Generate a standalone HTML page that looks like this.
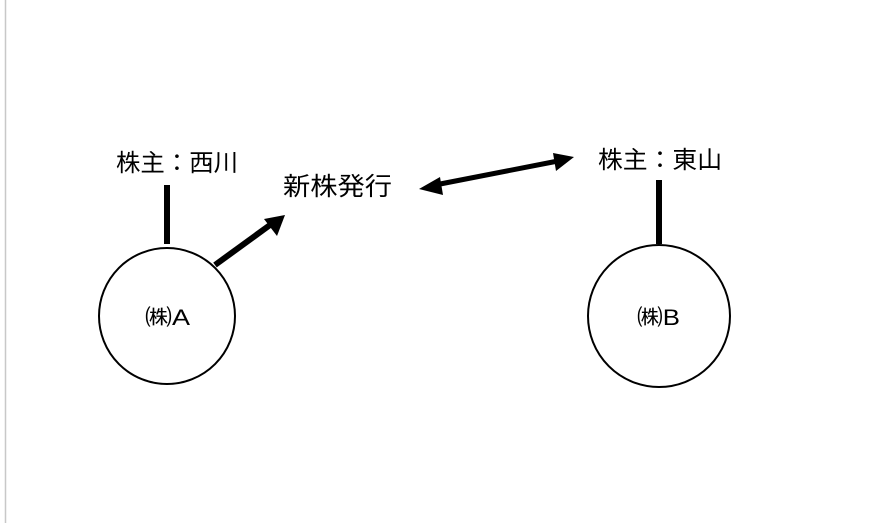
<!DOCTYPE html>
<html><head><meta charset="utf-8"><style>
html,body{margin:0;padding:0;background:#fff;width:875px;height:523px;overflow:hidden}
svg text{font-family:"Liberation Sans","Noto Sans CJK JP",sans-serif;fill:#000}
</style></head><body>
<svg width="875" height="523" viewBox="0 0 875 523" xmlns="http://www.w3.org/2000/svg">
<line x1="5.5" y1="0" x2="5.5" y2="523" stroke="#c8c8c8" stroke-width="1.5"/>
<circle cx="167" cy="316" r="68" fill="none" stroke="#000" stroke-width="2"/>
<circle cx="659" cy="316" r="71" fill="none" stroke="#000" stroke-width="2"/>
<line x1="167" y1="185" x2="167" y2="244" stroke="#000" stroke-width="6"/>
<line x1="659" y1="180" x2="659" y2="244" stroke="#000" stroke-width="6"/>
<line x1="215" y1="265" x2="270" y2="225" stroke="#000" stroke-width="6"/>
<polygon points="285,215 264,219 277,236" fill="#000"/>
<line x1="435" y1="185" x2="558" y2="161" stroke="#000" stroke-width="5"/>
<polygon points="419,189 440,177 443,195" fill="#000"/>
<polygon points="574,157 553,153 556,171" fill="#000"/>
<text x="116" y="171" font-size="24" textLength="122" lengthAdjust="spacingAndGlyphs">株主：西川</text>
<text x="283" y="195" font-size="25" textLength="109" lengthAdjust="spacingAndGlyphs">新株発行</text>
<text x="598" y="168" font-size="24" textLength="124" lengthAdjust="spacingAndGlyphs">株主：東山</text>
<text x="145" y="325" font-size="22" textLength="45" lengthAdjust="spacingAndGlyphs">㈱A</text>
<text x="637" y="325" font-size="22" textLength="43" lengthAdjust="spacingAndGlyphs">㈱B</text>
</svg>
</body></html>
